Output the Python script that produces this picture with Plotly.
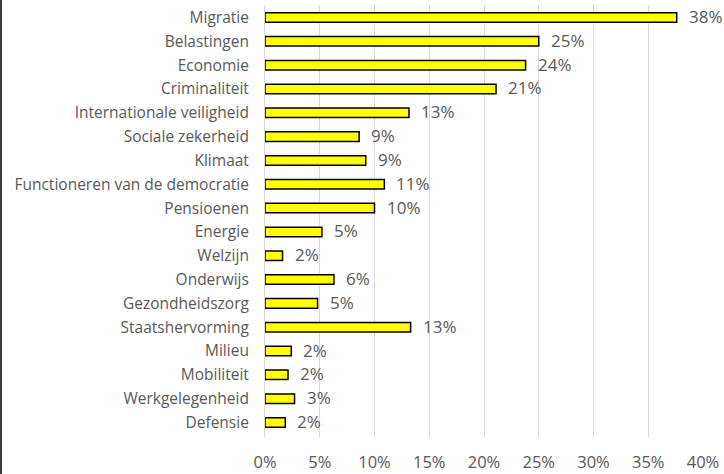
import plotly.graph_objects as go

# Onderwerpen en aandeel (fractie van respondenten)
topics = [
    "Migratie", "Belastingen", "Economie", "Criminaliteit",
    "Internationale veiligheid", "Sociale zekerheid", "Klimaat",
    "Functioneren van de democratie", "Pensioenen", "Energie", "Welzijn",
    "Onderwijs", "Gezondheidszorg", "Staatshervorming", "Milieu",
    "Mobiliteit", "Werkgelegenheid", "Defensie",
]
shares = [
    0.376, 0.250, 0.238, 0.211,
    0.1315, 0.086, 0.092,
    0.109, 0.100, 0.052, 0.016,
    0.063, 0.048, 0.133, 0.024,
    0.021, 0.027, 0.0185,
]
x_ticks = [0, 0.05, 0.10, 0.15, 0.20, 0.25, 0.30, 0.35, 0.40]

W, H = 724, 474
ML, MR, MT, MB = 265, 21, 5, 37
plot_w = W - ML - MR

TEXT = "#595959"
FONT = "Open Sans"

fig = go.Figure(
    go.Bar(
        x=shares,
        y=topics,
        orientation="h",
        width=0.4,
        marker=dict(color="#FFFF00", line=dict(color="#000000", width=1.5)),
        hoverinfo="skip",
    )
)

# Waardelabels rechts van elke balk
for t, v in zip(topics, shares):
    fig.add_annotation(
        x=v, y=t, xref="x", yref="y",
        text=f"{round(v * 100)}%",
        showarrow=False, xanchor="left", yanchor="middle",
        xshift=10, yshift=1,
        font=dict(family=FONT, size=17, color=TEXT),
    )

# Donkere rand links
fig.add_shape(
    type="rect", xref="paper", yref="paper",
    x0=-ML / plot_w, x1=(2 - ML) / plot_w, y0=-1, y1=2,
    fillcolor="#3a3a3a", line=dict(width=0), layer="above",
)

fig.update_layout(
    width=W, height=H,
    margin=dict(l=ML, r=MR, t=MT, b=MB),
    paper_bgcolor="white", plot_bgcolor="white",
    showlegend=False,
    font=dict(family=FONT, color=TEXT),
    xaxis=dict(
        range=[0, 0.4], tickvals=x_ticks, tickformat=".0%",
        showgrid=True, gridcolor="#d9d9d9", gridwidth=1,
        zeroline=False, showline=False,
        tickfont=dict(family=FONT, size=16.5, color=TEXT),
        ticklabelstandoff=13, automargin=False,
    ),
    yaxis=dict(
        autorange="reversed", showgrid=False, zeroline=False,
        showline=True, linecolor="#d9d9d9", linewidth=1,
        tickfont=dict(family=FONT, size=15.5, color=TEXT),
        ticklabelstandoff=12, automargin=False,
    ),
)

fig.write_html("out.html")
